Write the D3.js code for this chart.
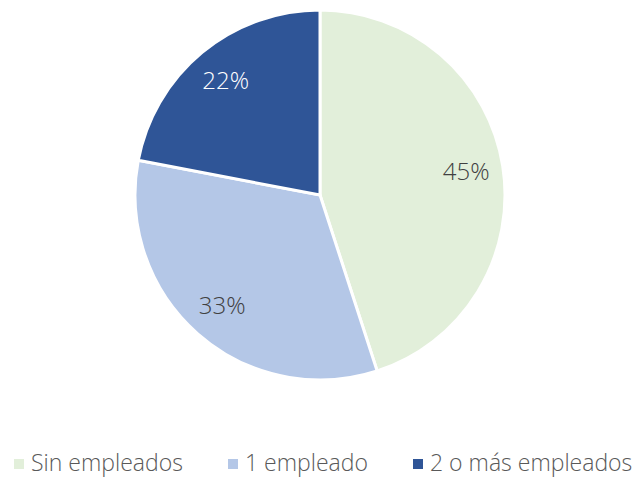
<!DOCTYPE html>
<html>
<head>
<meta charset="utf-8">
<style>
  body { margin: 0; background: #fff; }
  svg { display: block; font-family: 'Open Sans', 'Liberation Sans', sans-serif; font-weight: 300; }
</style>
</head>
<body>
<svg id="chart" width="640" height="478"></svg>
<script src="https://d3js.org/d3.v7.min.js"></script>
<script>
var categories = ["Sin empleados", "1 empleado", "2 o más empleados"];
var values = [45, 33, 22];
var colors = ["#E2EFDA", "#B4C7E7", "#2F5597"];
var labelColors = ["#404040", "#404040", "#ffffff"];

var width = 640, height = 478,
    cx = 320, cy = 195, radius = 185;

var svg = d3.select("#chart");

var pie = d3.pie().sort(null).value(function(d) { return d; });
var arc = d3.arc().innerRadius(0).outerRadius(radius);
var labelArc = d3.arc().innerRadius(radius * 0.8).outerRadius(radius * 0.8);

var g = svg.append("g").attr("transform", "translate(" + cx + "," + cy + ")");

var slices = g.selectAll("g.slice")
    .data(pie(values))
    .enter().append("g").attr("class", "slice");

slices.append("path")
    .attr("d", arc)
    .attr("fill", function(d, i) { return colors[i]; })
    .attr("stroke", "#fff")
    .attr("stroke-width", 3);

slices.append("text")
    .attr("transform", function(d) { return "translate(" + labelArc.centroid(d) + ")"; })
    .attr("text-anchor", "middle")
    .attr("dy", "0.35em")
    .attr("font-size", 24)
    .attr("fill", function(d, i) { return labelColors[i]; })
    .text(function(d) { return d.data + "%"; });

// legend
var legendX = [14, 228, 413];
var legend = svg.selectAll("g.legend")
    .data(categories)
    .enter().append("g").attr("class", "legend")
    .attr("transform", function(d, i) { return "translate(" + legendX[i] + ",463)"; });

legend.append("rect")
    .attr("x", 0).attr("y", -4)
    .attr("width", 10).attr("height", 10)
    .attr("fill", function(d, i) { return colors[i]; });

legend.append("text")
    .attr("x", 17)
    .attr("dy", "0.35em")
    .attr("font-size", 23)
    .attr("fill", "#595959")
    .text(function(d) { return d; });
</script>
</body>
</html>
